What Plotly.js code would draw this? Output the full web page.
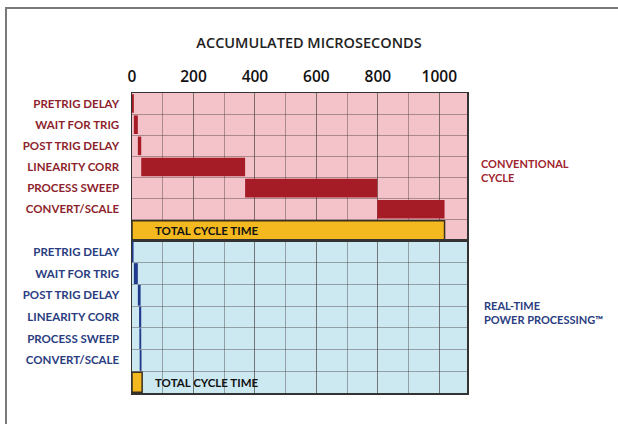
<!DOCTYPE html>
<html>
<head>
<meta charset="utf-8">
<script src="https://cdn.plot.ly/plotly-3.0.1.min.js"></script>
<style>
  html, body { margin: 0; padding: 0; background: #fff; }
  #wrap { position: relative; width: 618px; height: 424px; overflow: hidden; }
  #chart { position: absolute; left: 0; top: 0; width: 618px; height: 424px; }
  #frame { position: absolute; left: 5px; top: 7px; width: 640px; height: 440px;
           border-top: 2px solid #7a7a7a; border-left: 2px solid #7a7a7a; pointer-events: none; }
</style>
</head>
<body>
<div id="wrap">
  <div id="chart"></div>
  <div id="frame"></div>
</div>
<script>
// ---- data ----
const steps = ["PRETRIG DELAY", "WAIT FOR TRIG", "POST TRIG DELAY", "LINEARITY CORR", "PROCESS SWEEP", "CONVERT/SCALE"];
const totalLabel = "TOTAL CYCLE TIME";
const xTickVals = [0, 200, 400, 600, 800, 1000];
const xTickText = ["0", "200", "400", "600", "800", "1000"];

// Conventional cycle (microseconds)
const convStart = [0, 6, 19, 30, 368, 798];
const convEnd   = [6, 19, 30, 368, 798, 1017];
const convTotal = 1017;

// Real-time power processing (microseconds)
const rtStart = [0, 6, 19, 23, 24, 25];
const rtEnd   = [5, 19, 28, 30, 30, 31];
const rtTotal = 33;

// ---- build ----
const rows = steps.concat([totalLabel]);
const dur = (s, e) => s.map((v, i) => e[i] - v);

const RED = "#a61c26", PINK = "#f4c3c9", BLUE = "#213b8c", LBLUE = "#cce8f1", YEL = "#f4b91e";
const GRID = "rgba(70,60,60,0.42)";
const FONT = "Lato, sans-serif";

const traces = [
  { type: "bar", orientation: "h", y: steps, base: convStart, x: dur(convStart, convEnd),
    xaxis: "x", yaxis: "y", width: 0.88, marker: { color: RED }, hoverinfo: "skip", showlegend: false },
  { type: "bar", orientation: "h", y: [totalLabel], base: [0], x: [convTotal],
    xaxis: "x", yaxis: "y", width: 0.92, marker: { color: YEL, line: { color: "#3a3020", width: 1.5 } },
    hoverinfo: "skip", showlegend: false },
  { type: "bar", orientation: "h", y: steps, base: rtStart, x: dur(rtStart, rtEnd),
    xaxis: "x2", yaxis: "y2", width: 0.96, marker: { color: BLUE }, hoverinfo: "skip", showlegend: false },
  { type: "bar", orientation: "h", y: [totalLabel], base: [0], x: [rtTotal],
    xaxis: "x2", yaxis: "y2", width: 0.92, marker: { color: YEL, line: { color: "#3a3020", width: 1.5 } },
    hoverinfo: "skip", showlegend: false }
];

const yCommon = {
  type: "category", categoryorder: "array", categoryarray: rows,
  autorange: "reversed", tickmode: "array", tickvals: rows,
  ticktext: steps.concat([""]), tickson: "boundaries", ticks: "",
  showgrid: true, gridcolor: GRID, gridwidth: 1,
  showline: true, mirror: true, linecolor: "#333", linewidth: 1.5,
  ticklabelstandoff: 9, zeroline: false, fixedrange: true
};
const xCommon = {
  range: [0, 1090], showgrid: true, gridcolor: GRID, gridwidth: 1,
  minor: { dtick: 100, showgrid: true, gridcolor: GRID, gridwidth: 1 },
  showline: true, mirror: true, linecolor: "#333", linewidth: 1.5,
  zeroline: false, ticks: "", fixedrange: true
};

const layout = {
  width: 618, height: 424,
  margin: { l: 132, r: 151, t: 93, b: 31 },
  paper_bgcolor: "#ffffff", plot_bgcolor: "rgba(0,0,0,0)",
  barmode: "overlay",
  title: { text: "ACCUMULATED MICROSECONDS", x: 0.5, xref: "container", xanchor: "center",
           y: 1 - 43 / 424, yref: "container", yanchor: "middle",
           font: { family: "Open Sans, sans-serif", size: 14.5, color: "#222", weight: 600 } },
  xaxis: Object.assign({}, xCommon, { anchor: "y", side: "top", tickmode: "array",
           tickvals: xTickVals, ticktext: xTickText, showticklabels: true, ticklabelstandoff: 3,
           tickfont: { family: "Open Sans, sans-serif", size: 15.5, color: "#111", weight: 600 } }),
  xaxis2: Object.assign({}, xCommon, { anchor: "y2", matches: "x", tickmode: "array",
           tickvals: xTickVals, showticklabels: false }),
  yaxis: Object.assign({}, yCommon, { domain: [0.5067, 1],
           tickfont: { family: FONT, size: 11.5, color: "#8e1f2d", weight: 700 } }),
  yaxis2: Object.assign({}, yCommon, { domain: [0, 0.5067],
           tickfont: { family: FONT, size: 11.5, color: "#2a3d80", weight: 700 } }),
  shapes: [
    { type: "rect", xref: "x domain", yref: "y domain", x0: 0, x1: 1, y0: 0, y1: 1,
      fillcolor: PINK, line: { width: 0 }, layer: "below" },
    { type: "rect", xref: "x2 domain", yref: "y2 domain", x0: 0, x1: 1, y0: 0, y1: 1,
      fillcolor: LBLUE, line: { width: 0 }, layer: "below" }
  ],
  annotations: [
    { text: totalLabel, xref: "x", yref: "y", x: 68, y: totalLabel, xanchor: "left", yanchor: "middle",
      showarrow: false, font: { family: FONT, size: 11.5, color: "#111", weight: 700 } },
    { text: totalLabel, xref: "x2", yref: "y2", x: 68, y: totalLabel, xanchor: "left", yanchor: "middle",
      showarrow: false, font: { family: FONT, size: 11.5, color: "#111", weight: 700 } },
    { text: "CONVENTIONAL<br>CYCLE", xref: "paper", yref: "paper", x: 1.035, y: 0.743,
      xanchor: "left", yanchor: "middle", align: "left", showarrow: false,
      font: { family: FONT, size: 11, color: "#a0252f", weight: 700 } },
    { text: "REAL-TIME<br>POWER PROCESSING™", xref: "paper", yref: "paper", x: 1.045, y: 0.27,
      xanchor: "left", yanchor: "middle", align: "left", showarrow: false,
      font: { family: FONT, size: 11, color: "#2a3d80", weight: 700 } }
  ]
};

Plotly.newPlot("chart", traces, layout, { staticPlot: true, displayModeBar: false });
</script>
</body>
</html>
